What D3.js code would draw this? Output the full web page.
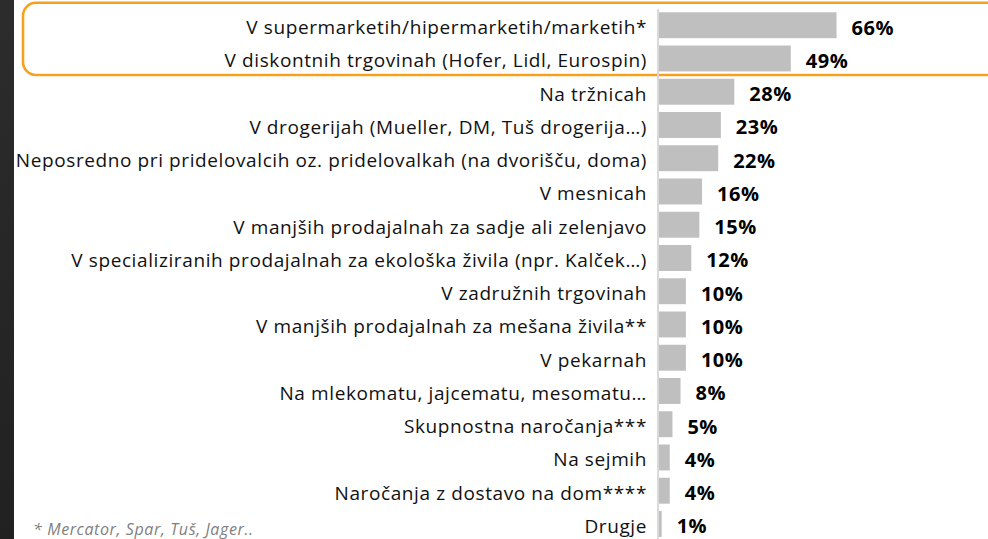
<!DOCTYPE html>
<html>
<head>
<meta charset="utf-8">
<script src="https://cdn.jsdelivr.net/npm/d3@7"></script>
<style>
  html, body { margin: 0; padding: 0; background: #ffffff; overflow: hidden; }
  svg { display: block; }
</style>
</head>
<body>
<svg id="chart" width="988" height="539"></svg>
<script>
const categories = [
  "V supermarketih/hipermarketih/marketih*",
  "V diskontnih trgovinah (Hofer, Lidl, Eurospin)",
  "Na tržnicah",
  "V drogerijah (Mueller, DM, Tuš drogerija…)",
  "Neposredno pri pridelovalcih oz. pridelovalkah (na dvorišču, doma)",
  "V mesnicah",
  "V manjših prodajalnah za sadje ali zelenjavo",
  "V specializiranih prodajalnah za ekološka živila (npr. Kalček…)",
  "V zadružnih trgovinah",
  "V manjših prodajalnah za mešana živila**",
  "V pekarnah",
  "Na mlekomatu, jajcematu, mesomatu…",
  "Skupnostna naročanja***",
  "Na sejmih",
  "Naročanja z dostavo na dom****",
  "Drugje"
];
const values = [66, 49, 28, 23, 22, 16, 15, 12, 10, 10, 10, 8, 5, 4, 4, 1];
const highlighted = categories.slice(0, 2);
const footnote = "* Mercator, Spar, Tuš, Jager..";

const svg = d3.select("#chart");
const W = 988, H = 539;

// dark strip at left edge
const grad = svg.append("defs").append("linearGradient")
  .attr("id", "strip").attr("x1", 0).attr("y1", 0).attr("x2", 0).attr("y2", 1);
grad.append("stop").attr("offset", "0%").attr("stop-color", "#2c2c2c");
grad.append("stop").attr("offset", "100%").attr("stop-color", "#212121");
svg.append("rect").attr("x", 0).attr("y", 0).attr("width", 14).attr("height", H)
  .attr("fill", "url(#strip)");

const x = d3.scaleLinear().domain([0, 100]).range([659, 928]);
const y = d3.scaleBand().domain(categories).range([8.6, 540.6])
  .paddingInner(0.22).paddingOuter(0.11);

const data = categories.map((c, i) => ({ c, v: values[i] }));

// highlight box around first two rows
const hb0 = y(highlighted[0]) - 9.5;
const hb1 = y(highlighted[highlighted.length - 1]) + y.bandwidth() + 3.5;
svg.append("rect")
  .attr("x", 23).attr("y", hb0)
  .attr("width", 1000).attr("height", hb1 - hb0)
  .attr("rx", 13).attr("ry", 13)
  .attr("fill", "none").attr("stroke", "#f5a11c").attr("stroke-width", 2.6);

// bars
svg.append("g").selectAll("rect").data(data).join("rect")
  .attr("x", x(0))
  .attr("y", d => y(d.c))
  .attr("width", d => x(d.v) - x(0))
  .attr("height", y.bandwidth())
  .attr("fill", "#bfbfbf");

// axis line
svg.append("line")
  .attr("x1", x(0) - 1).attr("x2", x(0) - 1)
  .attr("y1", 9).attr("y2", H)
  .attr("stroke", "#d9d9d9").attr("stroke-width", 2);

// category labels
svg.append("g").selectAll("text").data(data).join("text")
  .attr("x", 647)
  .attr("y", d => y(d.c) + y.bandwidth() / 2 + 9)
  .attr("text-anchor", "end")
  .attr("font-family", "'Open Sans', 'Noto Sans', sans-serif")
  .attr("font-size", 19)
  .attr("letter-spacing", "0.6px")
  .attr("fill", "#111111")
  .text(d => d.c);

// value labels
svg.append("g").selectAll("text").data(data).join("text")
  .attr("x", d => x(d.v) + 15)
  .attr("y", d => y(d.c) + y.bandwidth() / 2 + 9.5)
  .attr("text-anchor", "start")
  .attr("font-family", "'Open Sans', 'Noto Sans', sans-serif")
  .attr("font-weight", "bold")
  .attr("font-size", 20)
  .attr("letter-spacing", "0.5px")
  .attr("fill", "#000000")
  .text(d => d.v + "%");

// footnote
svg.append("text")
  .attr("x", 33).attr("y", 534.5)
  .attr("font-family", "'Open Sans', sans-serif")
  .attr("font-style", "italic")
  .attr("font-size", 16)
  .attr("letter-spacing", "0.6px")
  .attr("fill", "#808080")
  .text(footnote);
</script>
</body>
</html>
